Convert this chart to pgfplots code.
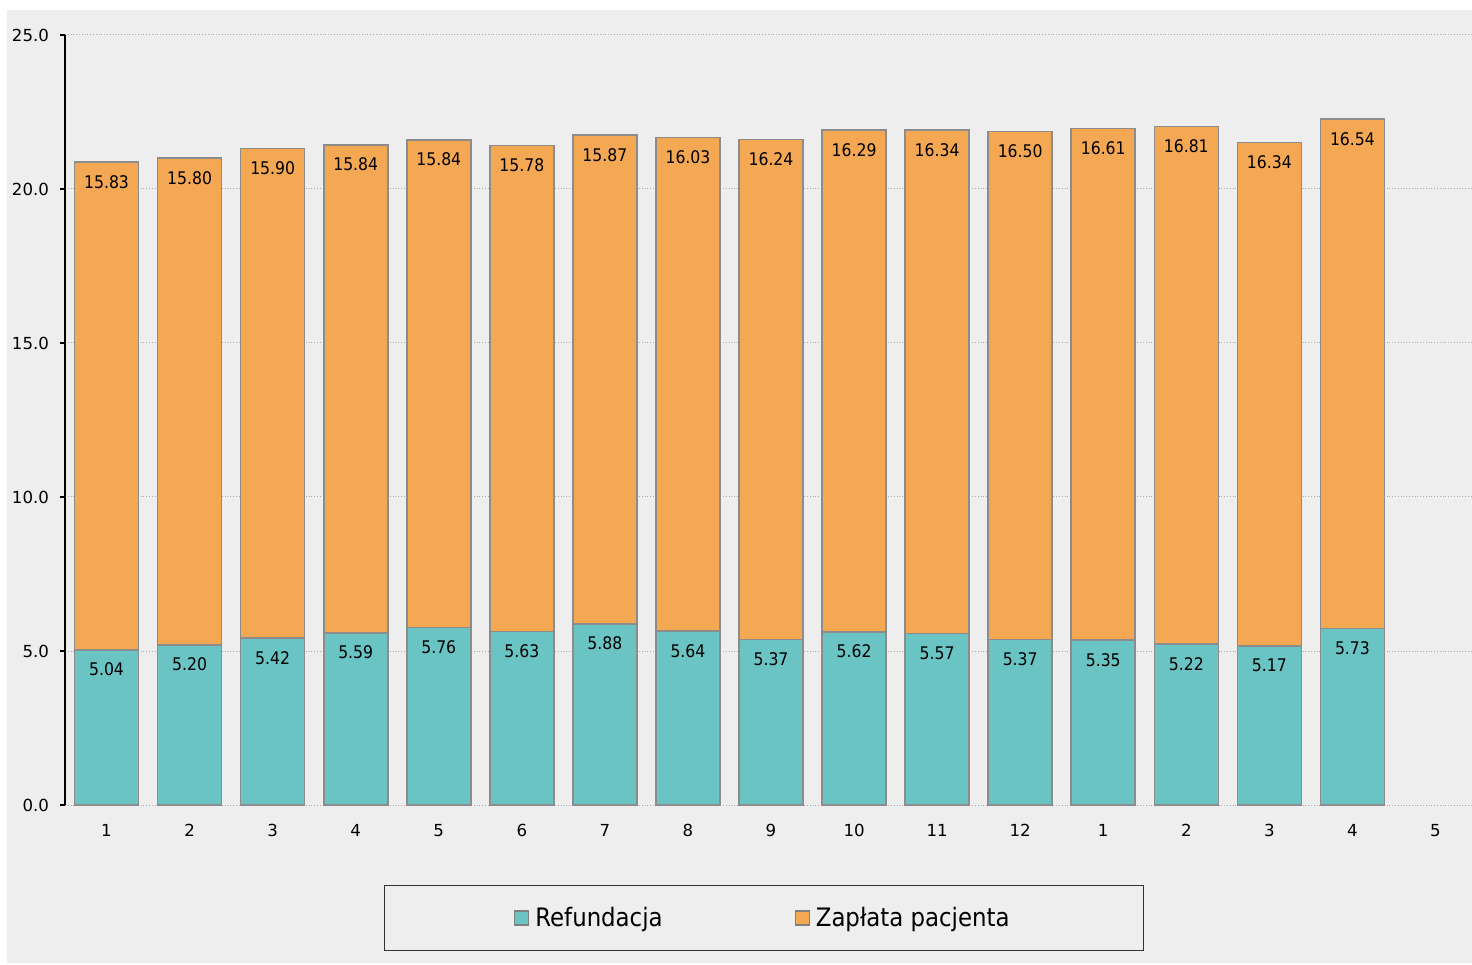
\documentclass[border=0pt]{standalone}
\usepackage{pgfplots}
\pgfplotsset{compat=1.18}
\usepackage{pgfplotstable}
\usepackage{fontspec}
\setmainfont{DejaVu Sans}
\newfontfamily\condfont{DejaVu Sans Condensed}
\definecolor{bgc}{HTML}{EEEEEE}
\definecolor{teal1}{HTML}{6AC4C4}
\definecolor{orange1}{HTML}{F4A854}
\definecolor{barborder}{HTML}{8C8C8C}
\pgfplotstableread{
x a b
1 5.04 15.83
2 5.20 15.80
3 5.42 15.90
4 5.59 15.84
5 5.76 15.84
6 5.63 15.78
7 5.88 15.87
8 5.64 16.03
9 5.37 16.24
10 5.62 16.29
11 5.57 16.34
12 5.37 16.50
13 5.35 16.61
14 5.22 16.81
15 5.17 16.34
16 5.73 16.54
}\datatable
\pgfplotsset{commonax/.style={
  at={(32.5pt,79.5pt)}, anchor=south west,
  scale only axis, width=706pt, height=385pt,
  xmin=0.5, xmax=17.5, ymin=0, ymax=25, clip=false,
  /pgf/number format/assume math mode=true}}
\begin{document}
\begin{tikzpicture}
\fill[bgc] (3.5pt,0.5pt) rectangle (736pt,477pt);
\begin{axis}[
  commonax,
  ybar stacked, bar width=32pt,
  xtick={1,...,17},
  xticklabels={1,2,3,4,5,6,7,8,9,10,11,12,1,2,3,4,5},
  ytick={0,5,10,15,20,25},
  axis y line*=left, axis x line*=bottom,
  x axis line style={draw=none},
  y axis line style={black, line width=0.6pt},
  xtick style={draw=none},
  ytick style={black, line width=0.6pt},
  tick align=outside, major tick length=2.5pt,
  ymajorgrids, grid style={gray!65, densely dotted, line width=0.5pt},
  yticklabel style={/pgf/number format/fixed, /pgf/number format/fixed zerofill, /pgf/number format/precision=1, xshift=-2pt},
  ticklabel style={font=\fontsize{8.3}{9}\selectfont, text=black},
  xticklabel style={yshift=-3.5pt},
  legend columns=2,
  legend style={at={(0.4950,-0.1468)}, anchor=center, fill=bgc, draw=black!80, line width=0.5pt,
    font=\condfont\fontsize{12.7}{14}\selectfont, inner xsep=65pt, inner ysep=8.5pt,
    /tikz/every odd column/.append style={column sep=1pt},
    /tikz/every even column/.append style={column sep=64pt}},
  legend image code/.code={\draw[#1, draw=gray, line width=0.6pt] (0pt,-3.5pt) rectangle (7pt,3.5pt);},
]
\addplot[fill=teal1, draw=barborder, line width=0.8pt] table[x=x, y=a] {\datatable};
\addplot[fill=orange1, draw=barborder, line width=0.8pt] table[x=x, y=b] {\datatable};
\legend{Refundacja, Zapłata pacjenta}
\end{axis}
\begin{axis}[
  commonax, hide axis,
  nodes near coords,
  nodes near coords style={font=\condfont\fontsize{8.7}{9}\selectfont, anchor=north, yshift=-3pt, text=black,
    /pgf/number format/fixed, /pgf/number format/fixed zerofill, /pgf/number format/precision=2},
]
\addplot[draw=none, mark=none, point meta=explicit] table[x=x, y=a, meta=a] {\datatable};
\addplot[draw=none, mark=none, point meta=explicit] table[x=x, y expr=\thisrow{a}+\thisrow{b}, meta=b] {\datatable};
\end{axis}
\pgfresetboundingbox
\useasboundingbox (0,0) rectangle (736pt,482pt);
\end{tikzpicture}
\end{document}
